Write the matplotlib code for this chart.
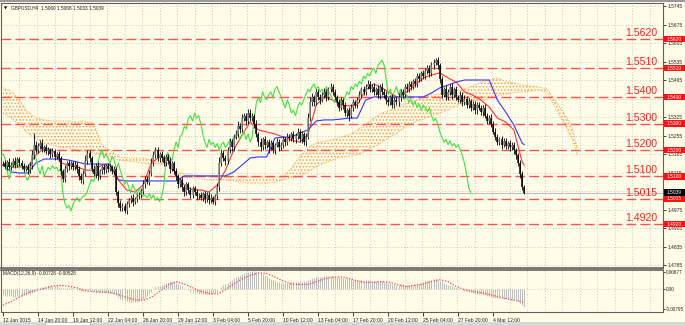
import numpy as np
import matplotlib
matplotlib.use("Agg")
import matplotlib.pyplot as plt
from matplotlib.patches import Rectangle
import matplotlib.transforms as mtrans

plt.rcParams['font.family'] = ['Liberation Sans', 'DejaVu Sans']
plt.rcParams['hatch.color'] = '#F5A04A'
plt.rcParams['hatch.linewidth'] = 0.7

# ---------------- data ----------------
symbol_title = "GBPUSD,H4  1.5060 1.5068 1.5033 1.5039"
macd_title = "MACD(12,26,9) -0.00728 -0.00528"
base_price = 1.5
pip = 0.0001
first_open = 150
# closes in pips above 1.5000, one per H4 bar
closes = [150,140,155,135,145,160,145,165,150,140,
          130,135,125,140,180,220,200,215,225,205,
          210,195,200,185,195,175,185,170,120,90,
          130,150,140,150,135,145,130,100,85,110,
          160,190,170,130,110,140,100,120,135,125,
          140,130,135,120,130,40,0,-20,-10,-30,
          -5,10,20,5,15,25,30,45,70,90,
          80,110,150,180,200,170,185,170,150,175,
          160,130,150,120,100,70,85,60,40,70,
          50,30,55,40,25,30,20,35,15,30,
          10,20,5,25,60,150,190,170,160,200,
          230,210,250,260,290,280,320,330,310,340,
          320,330,300,260,230,210,240,220,230,210,
          225,200,220,230,210,220,240,230,250,245,
          260,240,255,270,240,260,230,250,320,380,
          400,380,420,400,390,410,420,400,430,440,
          420,400,380,360,390,370,340,350,330,360,
          380,370,390,410,430,420,440,450,430,440,
          420,430,410,440,420,410,390,380,400,370,
          390,380,400,420,410,440,430,450,440,460,
          450,480,470,490,480,500,510,490,520,530,
          540,520,470,410,430,400,420,440,410,430,
          400,390,410,380,395,370,385,360,375,350,
          370,360,345,360,330,310,320,300,270,250,
          230,240,220,235,215,225,210,220,200,180,
          150,110,60,39]
wick_up = [10,12,8,15,10,9,12,8,10,14,
           10,8,12,15,20,44,15,10,12,15,
           8,12,10,9,14,10,8,12,6,10,
           15,10,12,8,10,12,9,8,12,15,
           20,12,10,8,12,10,14,9,10,12,
           8,10,12,9,8,6,10,12,8,10,
           12,8,10,12,9,8,10,12,15,10,
           12,15,20,15,10,12,8,10,12,9,
           10,12,8,10,12,8,10,12,9,10,
           10,12,8,10,12,9,10,8,10,12,
           10,12,8,10,15,25,15,12,10,12,
           15,10,12,15,20,12,15,12,10,15,
           15,10,8,12,10,15,10,12,8,10,
           12,10,8,15,12,10,12,10,15,12,
           10,12,8,15,10,12,10,15,20,20,
           15,10,12,10,12,10,15,12,10,12,
           10,12,10,12,10,8,12,10,12,15,
           12,10,12,15,10,12,10,15,12,10,
           12,10,15,10,12,10,15,12,10,12,
           10,12,15,10,12,10,12,10,12,10,
           12,10,12,10,12,10,12,10,12,15,
           8,12,10,12,10,15,12,10,12,10,
           12,10,12,10,12,10,12,10,12,10,
           10,12,10,12,15,10,12,15,10,12,
           12,10,12,10,12,10,12,10,12,8,
           10,12,10,8]
wick_dn = [12,10,15,8,12,10,14,9,12,10,
           12,10,15,12,10,12,10,12,10,14,
           12,10,12,15,10,12,10,12,15,11,
           10,12,15,10,12,9,15,12,10,12,
           10,12,15,12,10,14,12,10,12,15,
           10,12,10,12,14,10,15,12,10,8,
           12,10,12,15,10,12,10,12,10,12,
           10,12,10,12,10,12,15,10,12,10,
           12,15,10,12,15,12,10,15,12,10,
           12,10,12,10,15,12,10,12,15,10,
           15,12,10,12,10,15,12,10,15,12,
           10,12,15,10,12,15,10,12,15,10,
           12,10,15,12,15,12,10,15,12,20,
           10,12,15,10,12,10,12,15,10,12,
           12,10,15,12,10,15,12,15,10,12,
           12,15,10,12,15,10,12,15,10,12,
           12,10,15,12,10,15,12,15,20,10,
           12,10,12,10,12,10,12,10,12,10,
           12,10,12,15,10,12,15,12,10,12,
           12,10,12,15,12,10,12,10,12,10,
           12,10,12,10,12,10,12,15,10,12,
           10,12,15,12,10,12,10,12,15,10,
           12,10,12,15,10,12,10,12,10,12,
           12,10,12,15,10,12,10,12,10,12,
           10,12,15,10,12,10,12,10,15,12,
           12,15,12,6]
ind_step = 4
# Ichimoku lines read every 4 bars (pips above 1.5000)
tenkan = [143,136,136,136,181,208,200,151,143,136,124,124,143,143,87,49,41,68,151,174,
          170,106,68,49,49,41,68,124,200,257,306,276,268,261,249,238,230,257,370,401,
          389,370,367,370,427,450,435,416,397,420,446,473,484,492,473,457,420,408,389,363,
          321,306,276,155,143]
kijun = [143,117,113,113,151,166,166,166,162,155,147,147,147,147,87,83,83,83,83,83,
         83,83,102,102,102,102,102,102,117,143,170,174,174,245,249,249,264,276,310,314,
         314,317,321,321,389,401,401,401,401,401,401,401,416,435,446,457,465,465,465,465,
         389,344,295,227,220]
span_a = [435,423,389,344,321,314,310,310,310,306,306,302,219,200,174,170,170,170,162,155,
          151,117,110,106,102,102,98,98,98,98,98,98,98,98,98,132,174,208,227,234,
          238,249,257,276,298,321,340,351,367,378,386,401,408,412,420,423,431,442,457,465,
          473,461,454,446,442,439,431,389,344,295,200]
span_b = [340,321,295,264,242,227,219,211,208,196,193,189,185,177,162,159,155,151,147,147,
          143,106,98,95,91,87,87,87,83,79,75,75,75,79,87,95,98,117,136,151,
          162,174,177,181,196,211,230,249,268,291,306,317,329,340,351,367,378,386,389,397,
          405,412,416,420,423,427,420,359,306,249,181]
ichimoku_shift = 26
# MACD main (x1e-5), one per bar
macd_main = [-250,-260,-270,-280,-290,-300,-300,-290,-280,-260,
             -240,-220,-200,-180,-150,-100,-50,0,50,70,
             80,90,100,100,110,100,100,90,60,40,
             40,50,50,40,30,10,-20,-50,-60,-70,
             -40,-20,-40,-60,-80,-100,-100,-110,-120,-130,
             -130,-140,-150,-160,-180,-250,-330,-380,-420,-460,
             -490,-510,-520,-520,-510,-500,-480,-450,-400,-350,
             -280,-200,-100,0,80,100,120,160,200,250,
             280,300,300,280,240,200,150,100,50,0,
             -50,-100,-130,-150,-170,-190,-200,-210,-210,-200,
             -200,-190,-170,-150,-100,0,80,150,200,250,
             300,350,420,480,520,550,600,630,660,680,
             690,700,700,680,650,620,580,550,500,450,
             400,350,320,290,270,250,240,240,250,250,
             260,270,280,290,300,290,300,330,370,410,
             430,450,460,470,480,490,500,500,510,500,
             500,490,480,470,460,450,440,420,400,380,
             370,360,350,340,340,330,340,350,340,330,
             320,310,310,300,300,290,270,250,230,210,
             190,170,160,150,150,140,140,150,150,160,
             170,190,210,240,270,300,320,340,360,380,
             380,370,330,280,240,200,170,140,110,80,
             50,30,0,-30,-60,-90,-110,-130,-150,-170,
             -180,-190,-200,-220,-240,-260,-280,-300,-320,-340,
             -350,-360,-370,-380,-390,-400,-410,-420,-430,-450,
             -480,-550,-630,-728]
# MACD signal (x1e-5), read every 4 bars
macd_signal = [-640,-500,-320,-150,-50,20,120,140,110,40,-60,-110,-120,-140,-220,-330,
               -430,-450,-330,-100,150,290,200,50,-100,-180,-200,-20,200,400,540,640,
               620,480,320,200,180,180,290,400,470,490,420,320,260,270,300,260,
               160,100,150,200,300,370,300,100,-20,-100,-150,-220,-300,-380,-440,-510,-528]
levels = [1.5620, 1.5510, 1.5400, 1.5300, 1.5200, 1.5100, 1.5015, 1.4920]
current_price = 1.5039
price_ticks = [1.5745, 1.5675, 1.5605, 1.5535, 1.5465, 1.5395, 1.5325, 1.5255,
               1.5185, 1.5115, 1.5045, 1.4975, 1.4905, 1.4835, 1.4765]
hidden_ticks = [1.5395, 1.5045]   # covered by the level/price boxes
macd_ticks = [0.00677, 0.0, -0.00795]
macd_tick_labels = ['0.00677', '0.00', '-0.00795']
date_ticks = [0, 17, 34, 51, 68, 85, 102, 119, 136, 153, 170, 187, 204, 221, 238]
date_labels = ['12 Jan 2015', '14 Jan 20:00', '19 Jan 12:00', '22 Jan 04:00', '26 Jan 20:00',
               '29 Jan 12:00', '3 Feb 04:00', '5 Feb 20:00', '10 Feb 12:00', '13 Feb 04:00',
               '17 Feb 20:00', '20 Feb 12:00', '25 Feb 04:00', '27 Feb 20:00', '4 Mar 12:00']

# ---------------- derived ----------------
N = len(closes)
bars = np.arange(N)
c = base_price + np.array(closes) * pip
o = np.concatenate([[base_price + first_open * pip], c[:-1]])
body_hi = np.maximum(o, c)
body_lo = np.minimum(o, c)
hi = body_hi + np.array(wick_up) * pip
lo = body_lo - np.array(wick_dn) * pip

ind_x = list(range(0, N, ind_step))
if ind_x[-1] != N - 1:
    ind_x.append(N - 1)
ind_x = np.array(ind_x)
cloud_end = N - 1 + ichimoku_shift
cloud_x = list(range(0, cloud_end, ind_step))
if cloud_x[-1] != cloud_end:
    cloud_x.append(cloud_end)
cloud_x = np.array(cloud_x)
tk = base_price + np.array(tenkan) * pip
kj = base_price + np.array(kijun) * pip
sa = base_price + np.array(span_a) * pip
sb = base_price + np.array(span_b) * pip
mm = np.array(macd_main) * 1e-5
ms = np.array(macd_signal) * 1e-5

# ---------------- layout ----------------
W, H = 685, 325
BG = '#FFFDE8'
fig = plt.figure(figsize=(W / 100, H / 100), dpi=100)
fig.patch.set_facecolor(BG)

def frac(x0, y0, x1, y1):
    return [x0 / W, 1 - y1 / H, (x1 - x0) / W, (y1 - y0) / H]

ax = fig.add_axes(frac(1, 3, 663, 268))
ax2 = fig.add_axes(frac(1, 270, 663, 312))
for a in (ax, ax2):
    a.set_facecolor(BG)

PXB = 2.06   # px per bar
X0 = 3.0     # px of bar 0
xl = ((1 - X0) / PXB, (663 - X0) / PXB)
PPX = 2643.0
def p_at(y):
    return 1.5745 - (y - 6) / PPX
MPX = 0.000398
def m_at(y):
    return 0.00677 - (y - 272) * MPX

ax.set_xlim(*xl)
ax.set_ylim(p_at(268), p_at(3))
ax2.set_xlim(*xl)
ax2.set_ylim(m_at(312), m_at(270))

GRID = '#c9c9c9'
grid_x = -0.5 + 8.5 * np.arange(1, 40)
for a, (y0, y1) in ((ax, ax.get_ylim()), (ax2, ax2.get_ylim())):
    a.vlines(grid_x, y0, y1, colors=GRID, linestyles=(0, (1, 2)), lw=0.7, zorder=0)
ax.hlines(price_ticks, xl[0], xl[1], colors=GRID, linestyles=(0, (1, 2)), lw=0.7, zorder=0)
ax2.hlines([0.0], xl[0], xl[1], colors=GRID, linestyles=(0, (1, 2)), lw=0.7, zorder=0)

# cloud
ax.fill_between(cloud_x, sa, sb, facecolor='none', edgecolor='#F5A04A',
                hatch='.....', lw=0, zorder=1)
ax.plot(cloud_x, sa, color='#F5A04A', ls=(0, (1, 1.5)), lw=0.7, zorder=1)
ax.plot(cloud_x, sb, color='#F5A04A', ls=(0, (1, 1.5)), lw=0.7, zorder=1)

# level lines
LVL = '#FF5050'
bt = mtrans.blended_transform_factory(ax.transAxes, ax.transData)
for lv in levels:
    ax.axhline(lv, color=LVL, lw=1.0, ls=(0, (7, 3)), zorder=2)
    ax.text((657 - 1) / 662, lv + 3 / PPX, '%.4f' % lv, transform=bt,
            ha='right', va='baseline', fontsize=7.6, color='#FF2020', zorder=6)

ax.axhline(current_price, color='#bcbcbc', lw=0.7, zorder=1.5)

# ichimoku lines
ax.plot(ind_x, tk, color='#FF3030', lw=0.8, zorder=3)
ax.plot(ind_x, kj, color='#3535FF', lw=0.8, zorder=3)
ax.plot(bars - ichimoku_shift, c, color='#40E040', lw=0.8, zorder=3)

# candles
bull = c >= o
ax.vlines(bars, lo, hi, colors='black', lw=0.6, zorder=4)
bh = np.maximum(body_hi, body_lo + 0.00008)
ax.vlines(bars[bull], body_lo[bull], bh[bull], colors='#8a8a8a', lw=1.1, zorder=5)
ax.vlines(bars[~bull], body_lo[~bull], bh[~bull], colors='black', lw=1.1, zorder=5)

# MACD
ax2.vlines(bars, 0, mm, colors='#bdbdbd', lw=0.7, zorder=2)
ax2.plot(ind_x, ms, color='#FF4040', ls=(0, (1, 1.3)), lw=0.9, zorder=3)

# axes styling
SP = '#606060'
for a in (ax, ax2):
    for s in a.spines.values():
        s.set_color(SP)
        s.set_linewidth(0.8)
ax.spines['bottom'].set_linewidth(1.2)
ax2.spines['top'].set_linewidth(1.2)

ax.yaxis.tick_right()
ax.set_yticks(price_ticks)
ax.set_yticklabels(['' if v in hidden_ticks else '%.4f' % v for v in price_ticks])
ax.tick_params(axis='y', direction='out', length=2, width=0.6, colors='#202020', labelsize=3.5, pad=1)
ax.tick_params(axis='x', bottom=False, labelbottom=False)

ax2.yaxis.tick_right()
ax2.set_yticks(macd_ticks)
ax2.set_yticklabels(macd_tick_labels)
ax2.tick_params(axis='y', direction='out', length=1.5, width=0.6, colors='#202020', labelsize=3.3, pad=0.5)
ax2.set_xticks(date_ticks)
ax2.set_xticklabels(date_labels, ha='left')
ax2.tick_params(axis='x', direction='out', length=3, width=0.6, colors='#202020', labelsize=3.6, pad=1)

# right axis boxes
bw = 22 / 662
bhh = 3.2 / PPX
for lv in levels:
    ax.add_patch(Rectangle((1.0015, lv - bhh), bw, 2 * bhh, transform=bt, facecolor='#FF1010',
                           edgecolor='none', clip_on=False, zorder=7))
    ax.text(1.0015 + 3 / 662, lv, '%.4f' % lv, transform=bt, ha='left', va='center',
            fontsize=3.5, color='white', clip_on=False, zorder=8)
ax.add_patch(Rectangle((1.0015, current_price - bhh), bw, 2 * bhh, transform=bt, facecolor='black',
                       edgecolor='none', clip_on=False, zorder=7))
ax.text(1.0015 + 3 / 662, current_price, '%.4f' % current_price, transform=bt, ha='left', va='center',
        fontsize=3.5, color='white', clip_on=False, zorder=8)

# titles
ax.text(3 / 662, 1 - 5 / 265, '\u25bc', transform=ax.transAxes, fontsize=3.0, ha='left', va='center',
        family=['DejaVu Sans'], color='black', zorder=9)
ax.text(10 / 662, 1 - 5 / 265, symbol_title, transform=ax.transAxes, fontsize=3.4, ha='left', va='center',
        color='#202020', zorder=9)
ax2.text(2 / 662, 1 - 3.5 / 42, macd_title, transform=ax2.transAxes, fontsize=3.4, ha='left', va='center',
         color='#202020', zorder=9)

# window chrome
fig.add_artist(Rectangle((0, 1 - 2 / H), 1, 2 / H, transform=fig.transFigure, facecolor='#9a9a9a', edgecolor='none'))
fig.add_artist(Rectangle((0, 0), 1, 3 / H, transform=fig.transFigure, facecolor='#d8d8d8', edgecolor='none'))
fig.add_artist(Rectangle((45 / W, 0), 45 / W, 3 / H, transform=fig.transFigure, facecolor='white', edgecolor='#a0a0a0', lw=0.5))

fig.savefig('out.png', dpi=100, facecolor=BG)
